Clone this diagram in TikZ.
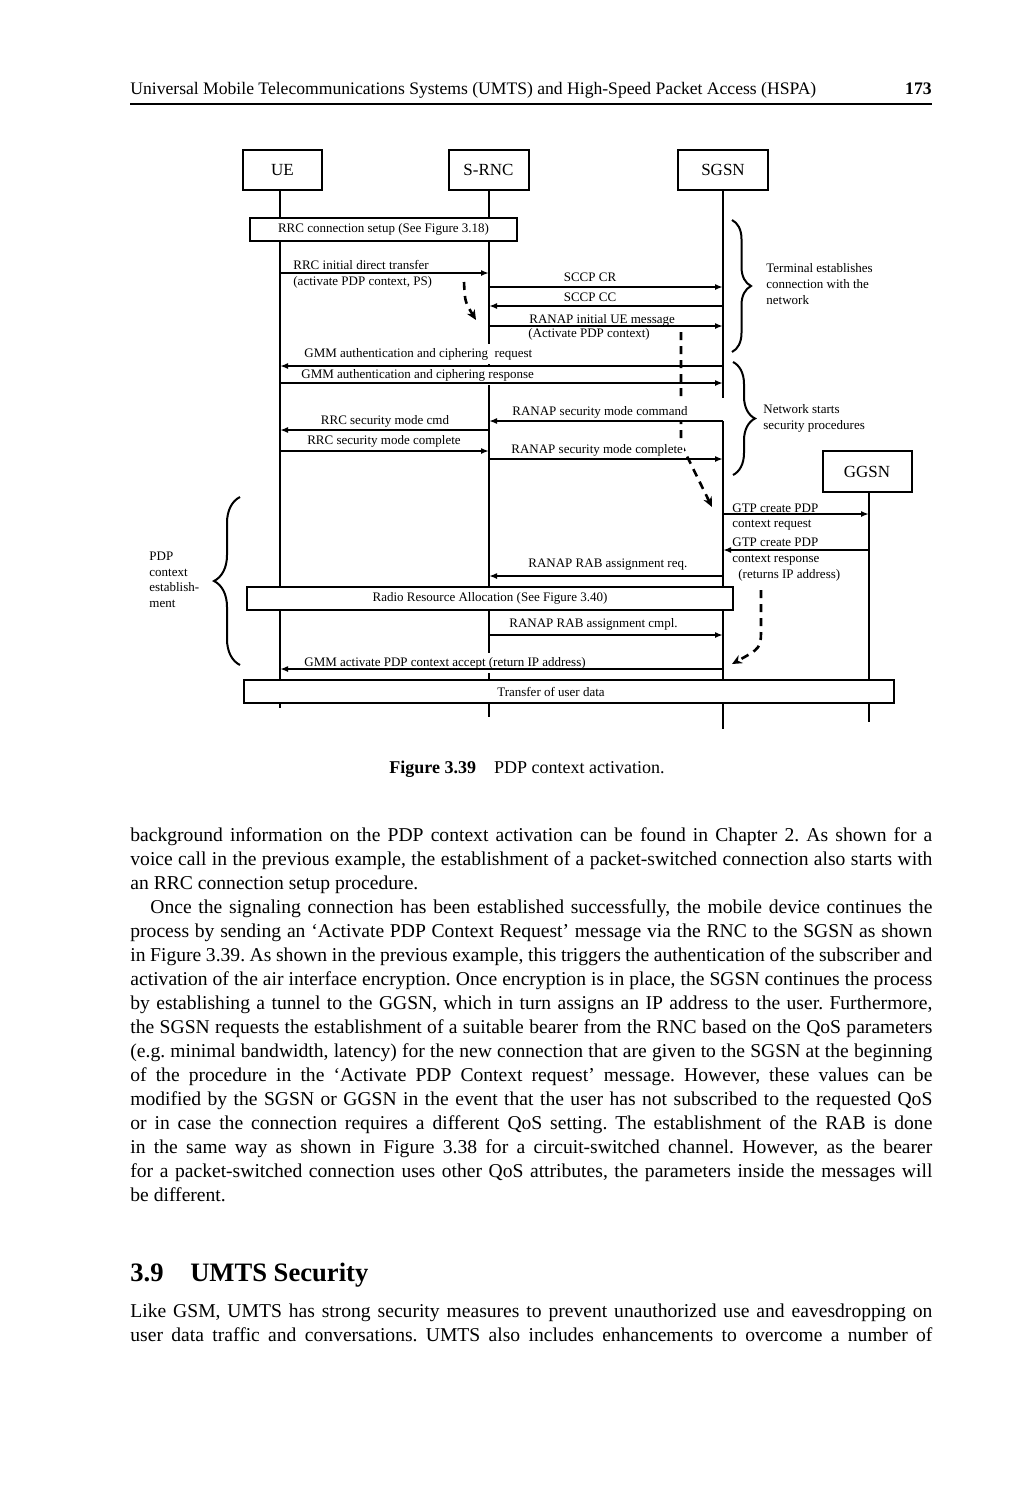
\documentclass[tikz,border=0pt]{standalone}
\usepackage{fontspec}
\setmainfont{Liberation Serif}
\usetikzlibrary{arrows.meta,decorations.pathreplacing,positioning}

\begin{document}
\begin{tikzpicture}[x=0.5pt, y=-0.5pt,
    ent/.style={draw, line width=1pt, fill=white, minimum height=20pt, inner sep=0pt, font=\fontsize{8.5}{10}\selectfont},
    bar/.style={draw, line width=1pt, fill=white, minimum height=11.5pt, inner sep=0pt, font=\fontsize{6.5}{7.5}\selectfont},
    lbl/.style={fill=white, inner xsep=0.5pt, inner ysep=2pt, font=\fontsize{6.5}{7.5}\selectfont},
    note/.style={anchor=base west, align=left, inner sep=0pt, font=\fontsize{6.5}{7.8}\selectfont},
    life/.style={line width=1pt},
    msg/.style={line width=0.9pt, -{Latex[length=4pt, width=3pt]}},
    hint/.style={line width=1.3pt, dash pattern=on 4pt off 3pt, -{Stealth[length=5pt, width=4.5pt]}},
    brc/.style={decorate, decoration={brace, amplitude=#1}, line width=1pt},
    body/.style={anchor=base west, inner sep=0pt, text width=401pt, align=justify, font=\fontsize{9.8}{12}\selectfont}
]
    \useasboundingbox (0, 0) rectangle (1032, 1500);

    \node[anchor=base west, inner sep=0pt, font=\fontsize{8.8}{11}\selectfont] at (130, 94)(head){Universal Mobile Telecommunications Systems (UMTS) and High-Speed Packet Access (HSPA)};
    \node[anchor=base east, inner sep=0pt, font=\fontsize{8.8}{11}\selectfont\bfseries] at (932, 94)(page){173};
    \coordinate (r0) at (130, 104);
    \coordinate (r1) at (932, 104);
    \draw[line width=0.85pt] (r0) -- (r1);

    \node[ent, minimum width=39.5pt] at (282.5, 170)(ue){UE};
    \node[ent, minimum width=40pt] at (488.5, 170)(rnc){S-RNC};
    \node[ent, minimum width=45pt] at (723, 170)(sgsn){SGSN};
    \node[ent, minimum width=44.5pt, minimum height=20.5pt] at (867, 471.5)(ggsn){GGSN};

    \coordinate (ueE) at (280, 708);
    \coordinate (rncE) at (489, 717);
    \coordinate (sgA) at (723, 398);
    \coordinate (sgB) at (723, 421);
    \coordinate (sgE) at (723, 729);
    \coordinate (ggE) at (869, 722);
    \draw[life] (ue.south -| ueE) -- (ueE)
        (rnc.south -| rncE) -- (rncE)
        (sgsn.south -| sgE) -- (sgA) (sgB) -- (sgE)
        (ggsn.south -| ggE) -- (ggE);

    \coordinate (h1) at (464, 282);
    \coordinate (h2) at (476, 320);
    \coordinate (h3) at (681, 332);
    \coordinate (h4) at (681, 444);
    \coordinate (h5) at (712, 507);
    \coordinate (h6) at (761, 590);
    \coordinate (h7) at (761, 628);
    \coordinate (h8) at (732, 664);
    \draw[hint] (h1) .. controls (465, 302) .. (h2);
    \draw[hint] (h3) -- (h4) -- (h5);
    \draw[hint] (h6) -- (h7) .. controls (761, 648) .. (h8);

    \node[lbl, anchor=base west] at (292, 269)(l1){RRC initial direct transfer};
    \node[lbl, anchor=base west] at (292, 285)(l1b){(activate PDP context, PS)};
    \node[lbl, anchor=base] at (590, 281)(l2){SCCP CR};
    \node[lbl, anchor=base] at (590, 301)(l3){SCCP CC};
    \node[lbl, anchor=base west] at (528, 323)(l4){RANAP initial UE message};
    \node[lbl, anchor=base west] at (527, 337)(l4b){(Activate PDP context)};
    \node[lbl, anchor=base west] at (303, 357)(l5){GMM authentication and ciphering\ \ request};
    \node[lbl, anchor=base west] at (300, 378)(l6){GMM authentication and ciphering response};
    \node[lbl, anchor=base west] at (511, 415)(l7){RANAP security mode command};
    \node[lbl, anchor=base] at (385, 424)(l8){RRC security mode cmd};
    \node[lbl, anchor=base] at (384, 444)(l9){RRC security mode complete};
    \node[lbl, anchor=base west] at (510, 453)(l10){RANAP security mode complete};
    \node[lbl, anchor=base west] at (731, 512)(l11){GTP create PDP};
    \node[lbl, anchor=base west] at (731, 527)(l11b){context request};
    \node[lbl, anchor=base west] at (731, 546)(l12){GTP create PDP};
    \node[lbl, anchor=base west] at (731, 562)(l12b){context response};
    \node[lbl, anchor=base west] at (737, 578)(l12c){(returns IP address)};
    \node[lbl, anchor=base west] at (527, 567)(l13){RANAP RAB assignment req.};
    \node[lbl, anchor=base west] at (508, 627)(l14){RANAP RAB assignment cmpl.};
    \node[lbl, anchor=base west] at (303, 666)(l15){GMM activate PDP context accept (return IP address)};

    \coordinate (m1) at (0, 273);
    \coordinate (m2) at (0, 287);
    \coordinate (m3) at (0, 306);
    \coordinate (m4) at (0, 326);
    \coordinate (m5) at (0, 366);
    \coordinate (m6) at (0, 383);
    \coordinate (m7) at (0, 421);
    \coordinate (m8) at (0, 430);
    \coordinate (m9) at (0, 451);
    \coordinate (m10) at (0, 459);
    \coordinate (m11) at (0, 514);
    \coordinate (m12) at (0, 550);
    \coordinate (m13) at (0, 576);
    \coordinate (m14) at (0, 635);
    \coordinate (m15) at (0, 669);
    \path[msg]
        (ueE |- m1)edge(rncE |- m1)
        (rncE |- m2)edge(sgE |- m2)
        (sgE |- m3)edge(rncE |- m3)
        (rncE |- m4)edge(sgE |- m4)
        (sgE |- m5)edge(ueE |- m5)
        (ueE |- m6)edge(sgE |- m6)
        (sgE |- m7)edge(rncE |- m7)
        (rncE |- m8)edge(ueE |- m8)
        (ueE |- m9)edge(rncE |- m9)
        (rncE |- m10)edge(sgE |- m10)
        (sgE |- m11)edge(ggE |- m11)
        (ggE |- m12)edge(sgE |- m12)
        (sgE |- m13)edge(rncE |- m13)
        (rncE |- m14)edge(sgE |- m14)
        (sgE |- m15)edge(ueE |- m15)
        ;

    \node[bar, minimum width=133.5pt] at (383.5, 229.5)(rrc){RRC connection setup (See Figure 3.18)};
    \node[bar, minimum width=243pt] at (490, 598.5)(rra){Radio Resource Allocation (See Figure 3.40)};
    \node[bar, minimum width=325pt] at (569, 691.5)(tud){Transfer of user data\hspace*{18pt}};

    \draw[brc=9.5pt] (732, 220) -- (732, 352);
    \draw[brc=11pt] (733, 362) -- (733, 475);
    \draw[brc=13pt] (240, 665) -- (240, 497);
    \node[note] at (766, 304)(n1){Terminal establishes\\connection with the\\network};
    \node[note, font=\fontsize{6.5}{8}\selectfont] at (763, 429)(n2){Network starts\\security procedures};
    \node[note, font=\fontsize{6.5}{7.7}\selectfont] at (149, 607)(n3){PDP\\context\\establish-\\ment};

    \node[anchor=base, inner sep=0pt, font=\fontsize{9}{11}\selectfont] at (527, 773)(cap){\textbf{Figure 3.39}\hspace{1em}PDP context activation.};

    \node[body] at (130, 841)(p1){\frenchspacing\parindent=10pt\noindent
        background information on the PDP context activation can be found in Chapter 2. As shown for a\linebreak
        voice call in the previous example, the establishment of a packet-switched connection also starts with\linebreak
        an RRC connection setup procedure.\par
        Once the signaling connection has been established successfully, the mobile device continues the\linebreak
        process by sending an ‘Activate PDP Context Request’ message via the RNC to the SGSN as shown\linebreak
        in Figure 3.39. As shown in the previous example, this triggers the authentication of the subscriber and\linebreak
        activation of the air interface encryption. Once encryption is in place, the SGSN continues the process\linebreak
        by establishing a tunnel to the GGSN, which in turn assigns an IP address to the user. Furthermore,\linebreak
        the SGSN requests the establishment of a suitable bearer from the RNC based on the QoS parameters\linebreak
        (e.g. minimal bandwidth, latency) for the new connection that are given to the SGSN at the beginning\linebreak
        of the procedure in the ‘Activate PDP Context request’ message. However, these values can be\linebreak
        modified by the SGSN or GGSN in the event that the user has not subscribed to the requested QoS\linebreak
        or in case the connection requires a different QoS setting. The establishment of the RAB is done\linebreak
        in the same way as shown in Figure 3.38 for a circuit-switched channel. However, as the bearer\linebreak
        for a packet-switched connection uses other QoS attributes, the parameters inside the messages will\linebreak
        be different.};

    \node[anchor=base west, inner sep=0pt, font=\fontsize{13.3}{16}\selectfont\bfseries] at (130, 1281)(sec){3.9\quad UMTS Security};

    \node[body] at (130, 1317)(p2){\frenchspacing\noindent
        Like GSM, UMTS has strong security measures to prevent unauthorized use and eavesdropping on\linebreak
        user data traffic and conversations. UMTS also includes enhancements to overcome a number of\linebreak\mbox{}};
\end{tikzpicture}
\end{document}
